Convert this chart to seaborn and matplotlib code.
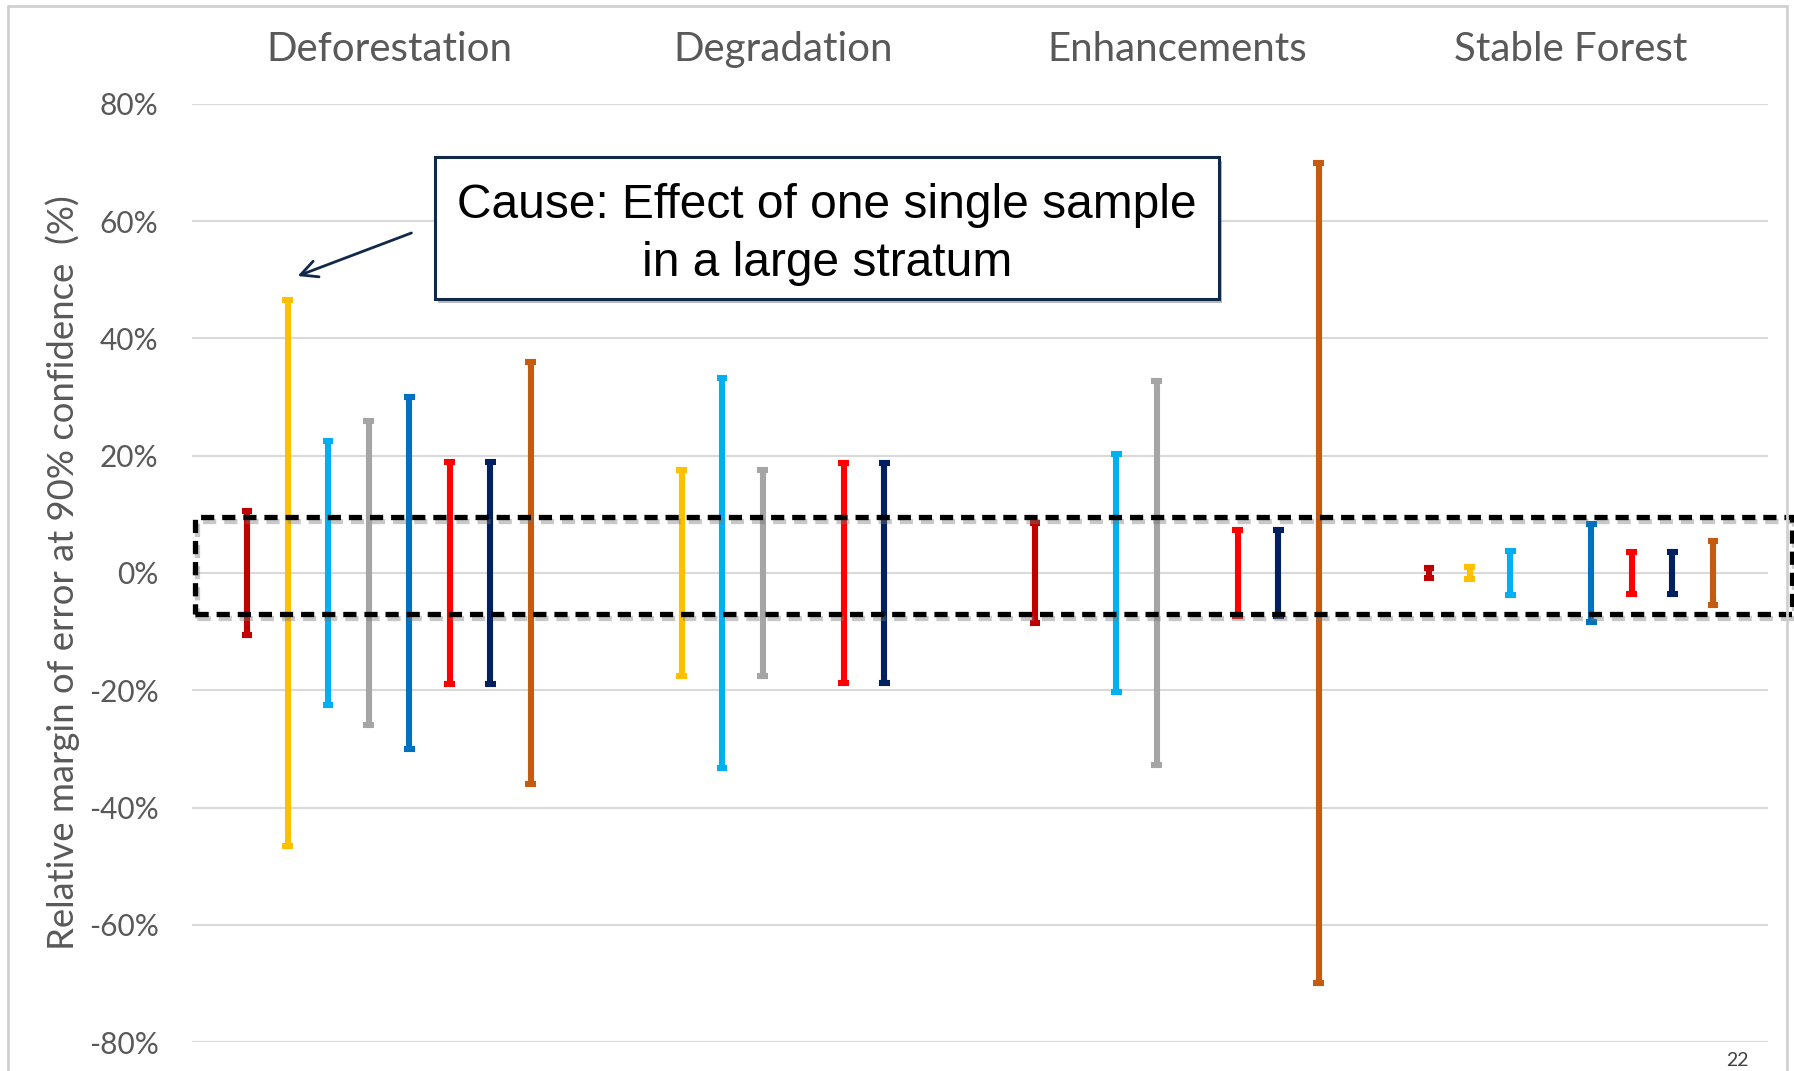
import numpy as np
import pandas as pd
import matplotlib
matplotlib.use("Agg")
import matplotlib.pyplot as plt
import matplotlib.patches as mpatches
import matplotlib.patheffects as pe
import matplotlib.transforms as mtransforms
from matplotlib.ticker import FuncFormatter
import seaborn as sns

# ---------------- data ----------------
categories = ["Deforestation", "Degradation", "Enhancements", "Stable Forest"]
series = ["S1", "S2", "S3", "S4", "S5", "S6", "S7", "S8"]
series_colors = ["#C00000", "#FFC000", "#00B0F0", "#A5A5A5",
                 "#0070C0", "#FF0000", "#002060", "#C55A11"]

# relative margin of error (%) per series, per category (None = no bar)
moe_deforestation = [10.5, 46.5, 22.5, 26.0, 30.0, 19.0, 19.0, 36.0]
moe_degradation   = [None, 17.5, 33.3, 17.5, None, 18.7, 18.7, None]
moe_enhancements  = [8.5, None, 20.3, 32.8, None, 7.4, 7.4, 70.0]
moe_stable        = [0.8, 1.0, 3.8, None, 8.4, 3.5, 3.5, 5.5]

yticks = [-80, -60, -40, -20, 0, 20, 40, 60, 80]
box_top, box_bottom = 9.5, -7.0

# ---------------- long table: +e and -e rows, range = error bar ----------------
rows = []
for cat, vals in zip(categories, [moe_deforestation, moe_degradation,
                                  moe_enhancements, moe_stable]):
    for s, v in zip(series, vals):
        if v is None:
            continue
        rows.append({"category": cat, "series": s, "value": v})
        rows.append({"category": cat, "series": s, "value": -v})
df = pd.DataFrame(rows)

# ---------------- figure ----------------
sns.set_theme(style="white")
plt.rcParams["font.family"] = ["Lato", "DejaVu Sans"]

fig = plt.figure(figsize=(17.94, 10.71), dpi=100)
ax = fig.add_axes([0.107, 0.027, 0.8785, 0.876])

sns.pointplot(
    data=df, x="category", y="value", hue="series",
    order=categories, hue_order=series, palette=series_colors,
    estimator="mean", errorbar=("pi", 100),
    dodge=0.72, capsize=0.027,
    marker="none", linestyle="none",
    err_kws={"linewidth": 4.4, "solid_capstyle": "butt"},
    legend=False, ax=ax,
)

ax.set_xlim(-0.5, 3.5)
ax.set_ylim(-80, 80)
ax.set_yticks(yticks)
ax.yaxis.set_major_formatter(FuncFormatter(lambda v, p: f"{v:.0f}%"))
ax.grid(axis="y", color="#D9D9D9", linewidth=1.5)
ax.grid(axis="x", visible=False)
ax.set_axisbelow(True)
for sp in ax.spines.values():
    sp.set_visible(False)
ax.set_xlabel("")
ax.set_ylabel("")

ax.xaxis.tick_top()
ax.tick_params(axis="x", length=0, pad=26, labelsize=29, labelcolor="#595959")
ax.tick_params(axis="y", length=0, pad=24, labelsize=21.5, labelcolor="#595959")

fig.text(63 / 1794, 0.465, "Relative margin of error at 90% confidence  (%)",
         rotation=90, ha="center", va="center", fontsize=26.3, color="#595959")

# dashed highlight box (x in axes coords, y in data)
trans = mtransforms.blended_transform_factory(ax.transAxes, ax.transData)
rect = mpatches.Rectangle((0.002, box_bottom), 1.013, box_top - box_bottom,
                          transform=trans, fill=False, edgecolor="black",
                          linewidth=3.8, linestyle=(0, (2.5, 1.5)),
                          clip_on=False, zorder=6)
rect.set_path_effects([pe.SimpleLineShadow(offset=(1.5, -2.5), shadow_color="#777777", alpha=0.4),
                       pe.Normal()])
ax.add_patch(rect)

# annotation box
bx0, bx1 = 435 / 1794, 1219 / 1794
by1, by0 = 1 - 157 / 1071, 1 - 299 / 1071
box = mpatches.Rectangle((bx0, by0), bx1 - bx0, by1 - by0, transform=fig.transFigure,
                         facecolor="white", edgecolor="#10284A", linewidth=2.2, zorder=10)
box.set_path_effects([pe.SimplePatchShadow(offset=(2, -3), shadow_rgbFace="#777777", alpha=0.5),
                      pe.Normal()])
fig.patches.append(box)
fig.text((bx0 + bx1) / 2, (by0 + by1) / 2 - 0.006,
         "Cause: Effect of one single sample\nin a large stratum",
         ha="center", va="center", fontsize=34.5, family=["Liberation Sans", "DejaVu Sans"],
         color="black", linespacing=1.37, zorder=11)

fig.add_artist(mpatches.FancyArrowPatch(
    (414 / 1794, 1 - 232 / 1071), (295 / 1794, 1 - 277 / 1071),
    transform=fig.transFigure, arrowstyle="->,head_length=12,head_width=6",
    color="#10284A", linewidth=2, mutation_scale=1, zorder=9))

# slide frame lines and page number
fig.add_artist(plt.Line2D([8 / 1794, 8 / 1794], [0, 1 - 6 / 1071], transform=fig.transFigure,
                          color="#D0D0D0", linewidth=2))
fig.add_artist(plt.Line2D([8 / 1794, 1787 / 1794], [1 - 6 / 1071, 1 - 6 / 1071],
                          transform=fig.transFigure, color="#D0D0D0", linewidth=2))
fig.add_artist(plt.Line2D([1787 / 1794, 1787 / 1794], [0, 1 - 6 / 1071], transform=fig.transFigure,
                          color="#D0D0D0", linewidth=2))
fig.text(1737 / 1794, 2 / 1071, "22", ha="center", va="bottom",
         fontsize=14, color="#404040")

fig.savefig("out.png", dpi=100)
